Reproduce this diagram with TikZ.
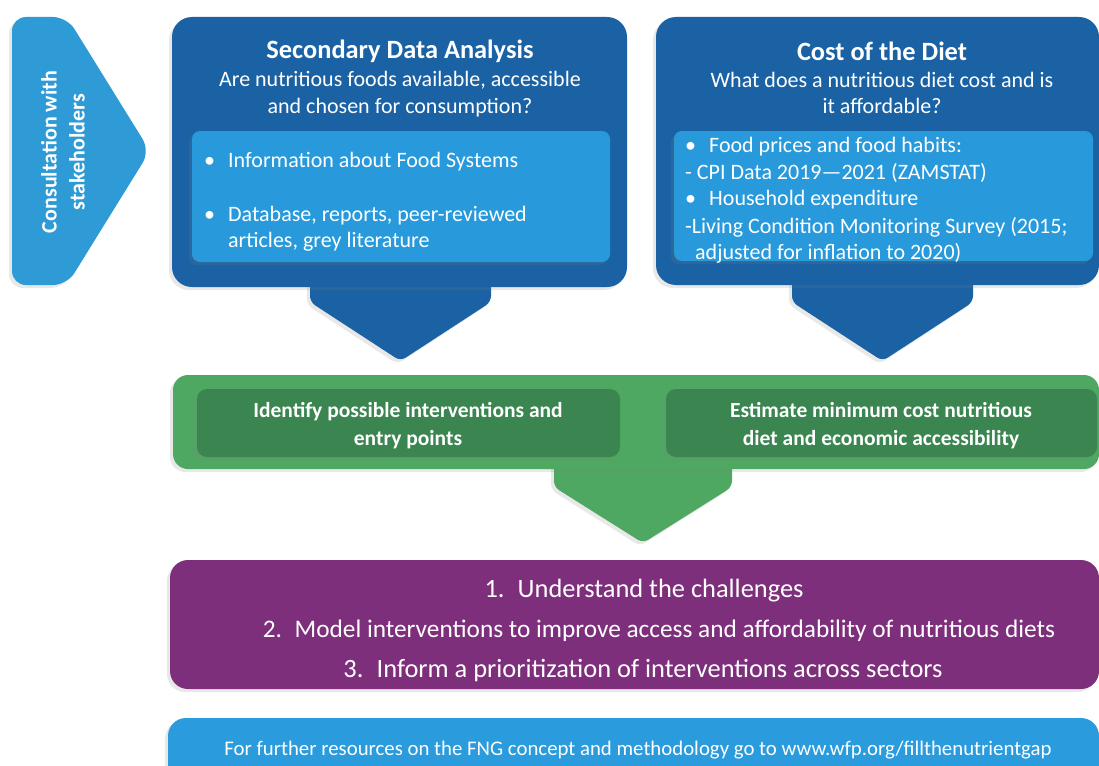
\documentclass[tikz,border=0pt]{standalone}
\usepackage{fontspec}
\setmainfont{Carlito}
\usetikzlibrary{shadows}
\definecolor{dblue}{HTML}{1A62A3}
\definecolor{lblue}{HTML}{2899DB}
\definecolor{chev}{HTML}{2E9AD6}
\definecolor{gbig}{HTML}{4EA862}
\definecolor{gdark}{HTML}{3A8550}
\definecolor{purp}{HTML}{7E2F7C}
\definecolor{foot}{HTML}{2A9BDC}
\tikzset{
  shd/.style={drop shadow={opacity=0.18,shadow xshift=-3pt,shadow yshift=-3pt}},
  wtxt/.style={text=white,inner sep=0pt,align=center},
  ltxt/.style={text=white,inner sep=0pt,anchor=west,font=\fontsize{22}{26}\selectfont},
}
\begin{document}
\begin{tikzpicture}[x=1pt,y=-1pt]
\useasboundingbox (0,0) rectangle (1099,765);
% chevron
\path[fill=chev,rounded corners=14pt,shd] (12,17) -- (67,17) -- (150,151) -- (67,285) -- (12,285) -- cycle;
\node[wtxt,rotate=90,font=\fontsize{22}{28}\selectfont\bfseries] (cons) at (63,152) {Consultation with\\stakeholders};
% box 1
\path[fill=dblue,rounded corners=6pt,shd] (310,270) -- (310,302) -- (400.5,361) -- (491,302) -- (491,270) -- cycle;
\path[fill=dblue,rounded corners=20pt,shd] (172,17) rectangle (627,287);
\path[fill=lblue,rounded corners=8pt,shd] (192,131) rectangle (610,262);
\node[wtxt,font=\fontsize{26.4}{30}\selectfont\bfseries] (t1) at (400,51) {Secondary Data Analysis};
\node[wtxt,font=\fontsize{22}{27}\selectfont] (s1) at (400,94) {Are nutritious foods available, accessible\\and chosen for consumption?};
\node[ltxt] (b1a) at (204,162) {•};
\node[ltxt] (i1a) at (228,162) {Information about Food Systems};
\node[ltxt] (b1b) at (204,216) {•};
\node[ltxt] (i1b) at (228,216) {Database, reports, peer-reviewed};
\node[ltxt] (i1c) at (228,242) {articles, grey literature};
% box 2
\path[fill=dblue,rounded corners=6pt,shd] (792,270) -- (792,302) -- (882.5,361) -- (973,302) -- (973,270) -- cycle;
\path[fill=dblue,rounded corners=20pt,shd] (656,17) rectangle (1099,285);
\path[fill=lblue,rounded corners=8pt,shd] (674,131) rectangle (1093,261);
\node[wtxt,font=\fontsize{26.4}{30}\selectfont\bfseries] (t2) at (882,51) {Cost of the Diet};
\node[wtxt,font=\fontsize{22}{26}\selectfont] (s2) at (882,93) {What does a nutritious diet cost and is\\it affordable?};
\node[ltxt] (b2a) at (685,147) {•};
\node[ltxt] (i2a) at (709,147) {Food prices and food habits:};
\node[ltxt] (i2b) at (685,173) {- CPI Data 2019—2021 (ZAMSTAT)};
\node[ltxt] (b2c) at (685,200) {•};
\node[ltxt] (i2c) at (709,200) {Household expenditure};
\node[ltxt] (i2d) at (685,227) {-Living Condition Monitoring Survey (2015;};
\node[ltxt] (i2e) at (695,253) {adjusted for inflation to 2020)};
% green
\path[fill=gbig,rounded corners=6pt,shd] (554,460) -- (554,487) -- (643,543) -- (732,487) -- (732,460) -- cycle;
\path[fill=gbig,rounded corners=15pt,shd] (173,375) rectangle (1099,469);
\path[fill=gdark,rounded corners=10pt,shd] (197,389) rectangle (620,457);
\path[fill=gdark,rounded corners=10pt,shd] (666,389) rectangle (1097,457);
\node[wtxt,font=\fontsize{21.5}{28}\selectfont\bfseries] (g1) at (408,426) {Identify possible interventions and\\entry points};
\node[wtxt,font=\fontsize{21.5}{28}\selectfont\bfseries] (g2) at (881,426) {Estimate minimum cost nutritious\\diet and economic accessibility};
% purple
\path[fill=purp,rounded corners=18pt,shd] (170,560) rectangle (1099,689);
\node[wtxt,font=\fontsize{26.4}{30}\selectfont] (p1) at (644,591) {1.\enspace Understand the challenges};
\node[wtxt,font=\fontsize{25.3}{30}\selectfont] (p2) at (659,631) {2.\enspace Model interventions to improve access and affordability of nutritious diets};
\node[wtxt,font=\fontsize{26.4}{30}\selectfont] (p3) at (643,670) {3.\enspace Inform a prioritization of interventions across sectors};
% footer
\path[fill=foot,rounded corners=18pt,shd] (168,718) rectangle (1099,800);
\node[wtxt,font=\fontsize{20.8}{24}\selectfont] (f1) at (638,750) {For further resources on the FNG concept and methodology go to www.wfp.org/fillthenutrientgap};
\end{tikzpicture}
\end{document}
